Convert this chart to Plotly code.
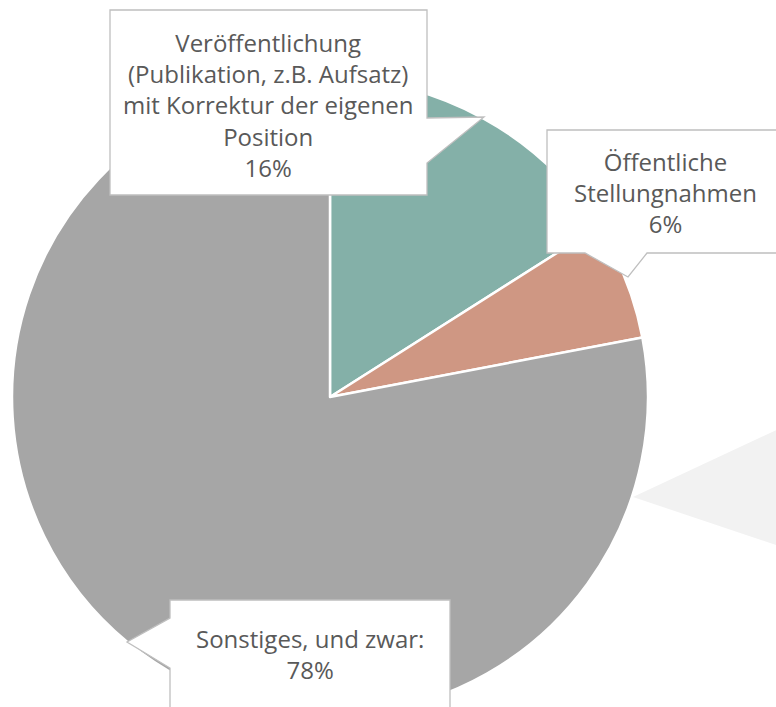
import plotly.graph_objects as go

# Daten
kategorien = ["Veröffentlichung<br>(Publikation, z.B. Aufsatz)<br>mit Korrektur der eigenen<br>Position",
              "Öffentliche<br>Stellungnahmen",
              "Sonstiges, und zwar:"]
anteile = [16, 6, 78]
farben = ["#84B0A8", "#CF9783", "#A6A6A6"]

W, H = 776, 720


def px(x, y):
    # Pixelkoordinaten (von oben links) -> paper-Koordinaten
    return x / W, 1 - y / H


def pfad(punkte):
    teile = []
    for i, (x, y) in enumerate(punkte):
        xp, yp = px(x, y)
        teile.append(("M" if i == 0 else "L") + f"{xp:.5f},{yp:.5f}")
    return " ".join(teile) + " Z"


fig = go.Figure()

x0, y0 = px(12, 715)
x1, y1 = px(648, 79)
fig.add_trace(go.Pie(
    labels=kategorien, values=anteile, sort=False,
    direction="clockwise", rotation=0,
    marker=dict(colors=farben, line=dict(color="white", width=2.5)),
    textinfo="none", hoverinfo="label+percent",
    domain=dict(x=[x0, x1], y=[y0, y1]),
    showlegend=False,
))

# Sprechblasen (Rahmen + Zeiger)
blasen = [
    [(110, 10), (427, 10), (427, 118), (484, 117), (427, 163), (427, 195), (110, 195)],
    [(547, 130), (790, 130), (790, 253), (647, 253), (628, 277), (585, 253), (547, 253)],
    [(170, 600), (450, 600), (450, 730), (170, 730), (170, 668), (127, 642), (170, 618)],
]
shapes = [dict(type="path", xref="paper", yref="paper", path=pfad(p),
               fillcolor="white", line=dict(color="#BFBFBF", width=1.3), layer="above")
          for p in blasen]
# graue Blase am rechten Rand (angeschnitten)
shapes.append(dict(type="path", xref="paper", yref="paper",
                   path=pfad([(633, 497), (800, 419), (800, 553)]),
                   fillcolor="#F2F2F2", line=dict(width=0), layer="above"))

# Beschriftungen
gesamt = sum(anteile)
positionen = [(268, 105), (665, 193), (310, 654)]
annotations = []
for kat, wert, (x, y) in zip(kategorien, anteile, positionen):
    xp, yp = px(x, y)
    annotations.append(dict(
        x=xp, y=yp, xref="paper", yref="paper", showarrow=False,
        text=f"{kat}<br>{round(100 * wert / gesamt)}%",
        font=dict(family="Open Sans", size=24, color="#595959"),
        align="center", xanchor="center", yanchor="middle",
    ))

fig.update_layout(
    width=W, height=H,
    margin=dict(l=0, r=0, t=0, b=0),
    paper_bgcolor="white", plot_bgcolor="white",
    shapes=shapes, annotations=annotations,
)

fig.write_html("out.html", config={"displayModeBar": False},
               post_script="document.body.style.margin='0';document.body.style.overflow='hidden';")
